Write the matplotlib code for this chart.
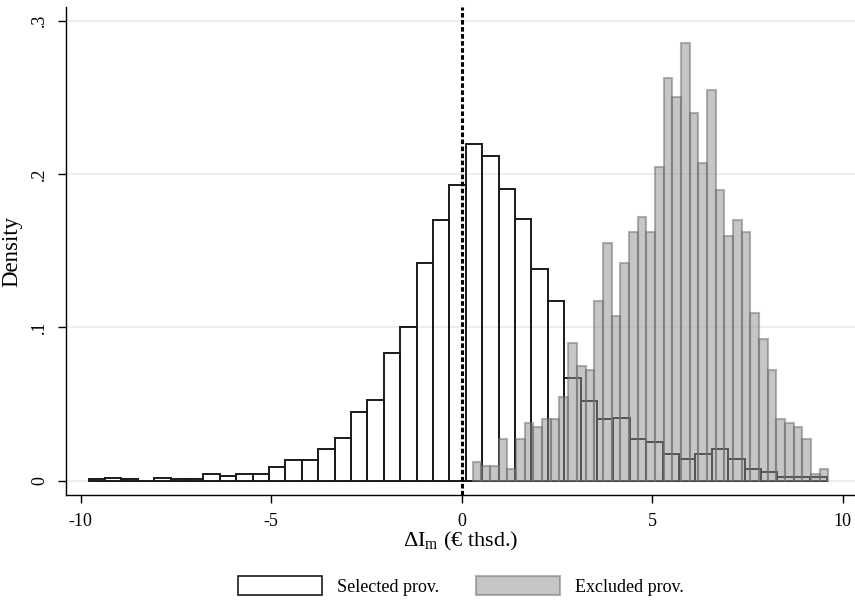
import numpy as np
import matplotlib
matplotlib.use("Agg")
import matplotlib.pyplot as plt
from matplotlib.patches import Patch

plt.rcParams['font.family'] = ['Liberation Serif', 'DejaVu Serif']
plt.rcParams['mathtext.fontset'] = 'custom'
plt.rcParams['mathtext.rm'] = 'Liberation Serif'
plt.rcParams['mathtext.it'] = 'Liberation Serif:italic'

# Selected provinces histogram (density), 45 bins
sel_start = -9.795
sel_width = 0.4304
sel_density = [0.0009, 0.0018, 0.0009, 0.0, 0.0018, 0.0009, 0.0013, 0.0042, 0.0029, 0.0042,
               0.0042, 0.0087, 0.0133, 0.0138, 0.0210, 0.0280, 0.0448, 0.0526, 0.0834, 0.1002,
               0.1420, 0.1701, 0.1926, 0.2197, 0.2119, 0.1900, 0.1706, 0.1382, 0.1169, 0.0668,
               0.0522, 0.0400, 0.0407, 0.0270, 0.0254, 0.0176, 0.0139, 0.0176, 0.0205, 0.0139,
               0.0074, 0.0059, 0.0022, 0.0022, 0.0022]

# Excluded provinces histogram (density), 41 bins
exc_start = 0.289
exc_width = 0.2276
exc_density = [0.0124, 0.0096, 0.0096, 0.0272, 0.0074, 0.0272, 0.0374, 0.0348, 0.0400, 0.0400,
               0.0548, 0.0896, 0.0750, 0.0722, 0.1173, 0.1548, 0.1074, 0.1421, 0.1623, 0.1721,
               0.1623, 0.2047, 0.2623, 0.2503, 0.2851, 0.2399, 0.2073, 0.2547, 0.1895, 0.1595,
               0.1700, 0.1623, 0.1095, 0.0922, 0.0722, 0.0400, 0.0374, 0.0348, 0.0274, 0.0044,
               0.0074]

x_ticks = [-10, -5, 0, 5, 10]
x_tick_labels = ['-10', '-5', '0', '5', '10']
y_ticks = [0, 0.1, 0.2, 0.3]
y_tick_labels = ['0', '.1', '.2', '.3']
labels = ['Selected prov.', 'Excluded prov.']

fig = plt.figure(figsize=(8.55, 6.03), dpi=100)
ax = fig.add_axes([66/855, 1-495/603, 1-66/855, (495-7)/603])

sel_left = sel_start + sel_width * np.arange(len(sel_density))
exc_left = exc_start + exc_width * np.arange(len(exc_density))

for y in y_ticks:
    ax.axhline(y, color='#e6eff1', lw=1.3, zorder=0)

exc_face = (0.56, 0.56, 0.56, 0.5)
exc_edge = (0.42, 0.42, 0.42, 0.5)

ax.bar(sel_left, sel_density, width=sel_width, align='edge',
       facecolor='none', edgecolor='#1a1a1a', lw=1.4, zorder=2)
ax.bar(exc_left, exc_density, width=exc_width, align='edge',
       facecolor=exc_face, edgecolor=exc_edge, lw=1.5, zorder=3)

ax.axvline(0, color='black', lw=2.2, ls=(0, (1.5, 0.8)), zorder=4)

ax.set_xlim(-10.386, 10.32)
ax.set_ylim(-0.0093, 0.3088)
ax.spines['top'].set_visible(False)
ax.spines['right'].set_visible(False)
ax.spines['left'].set_linewidth(1.0)
ax.spines['bottom'].set_linewidth(1.0)
ax.set_xticks(x_ticks)
ax.set_xticklabels(x_tick_labels, fontsize=13)
ax.set_yticks(y_ticks)
ax.set_yticklabels(y_tick_labels, fontsize=13, rotation=90, va='center')
ax.tick_params(length=6, width=1.0, pad=7)

ax.set_xlabel('ΔI$_{\\rm m}$ (€ thsd.)', fontsize=16, labelpad=0)
ax.set_ylabel('Density', fontsize=16.5, labelpad=6)

handles = [Patch(facecolor='white', edgecolor='#1a1a1a', lw=1.2),
           Patch(facecolor=exc_face, edgecolor=exc_edge, lw=1.5)]
fig.legend(handles, labels, loc='center', bbox_to_anchor=(461/855, 1-586/603), ncol=2,
           frameon=False, fontsize=13, handlelength=4.65, handleheight=1.2,
           handletextpad=0.83, columnspacing=2.05)

fig.savefig('out.png', dpi=100)
